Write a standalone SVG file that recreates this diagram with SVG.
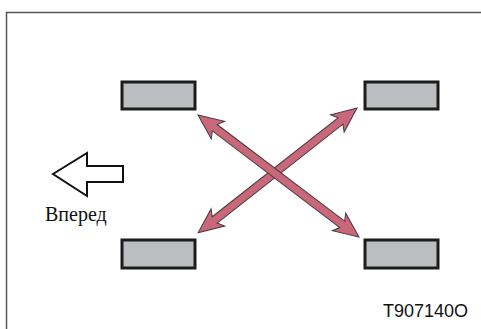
<svg xmlns="http://www.w3.org/2000/svg" width="481" height="329" viewBox="0 0 481 329">
<style>
.wheel{fill:#bcbdc0;stroke:#1c1c1c;stroke-width:3}
.rot{fill:#c9687a;stroke:#4a3a3d;stroke-width:1}
.fwd{fill:#fff;stroke:#111;stroke-width:2}
</style>
<defs>
<polygon id="dbl" class="rot" points="0,0 25,-11 21,-4 181,-4 177,-11 202,0 177,11 181,4 21,4 25,11"/>
</defs>
<rect x="0" y="0" width="481" height="329" fill="#fff"/>
<path d="M6.5,329 V12.5 H481" fill="none" stroke="#555" stroke-width="1.5"/>
<g id="wheel-fl"><rect class="wheel" x="122" y="82" width="73" height="27"/></g>
<g id="wheel-fr"><rect class="wheel" x="365" y="82" width="73" height="27"/></g>
<g id="wheel-rl"><rect class="wheel" x="122" y="240" width="73" height="28"/></g>
<g id="wheel-rr"><rect class="wheel" x="365" y="240" width="73" height="28"/></g>
<g id="connectors">
<use href="#dbl" transform="translate(357,108) rotate(141.83)"/>
<use href="#dbl" transform="translate(198,115) rotate(37.16)"/>
</g>
<g id="forward">
<polygon class="fwd" points="53,174 87,153 87,166 123,166 123,182 87,182 87,196"/>
<text x="45" y="221" font-family="Liberation Serif, serif" font-size="20" fill="#111">Вперед</text>
</g>
<text x="383" y="317" font-family="Liberation Sans, Arial, sans-serif" font-size="18" fill="#111">T907140O</text>
</svg>
